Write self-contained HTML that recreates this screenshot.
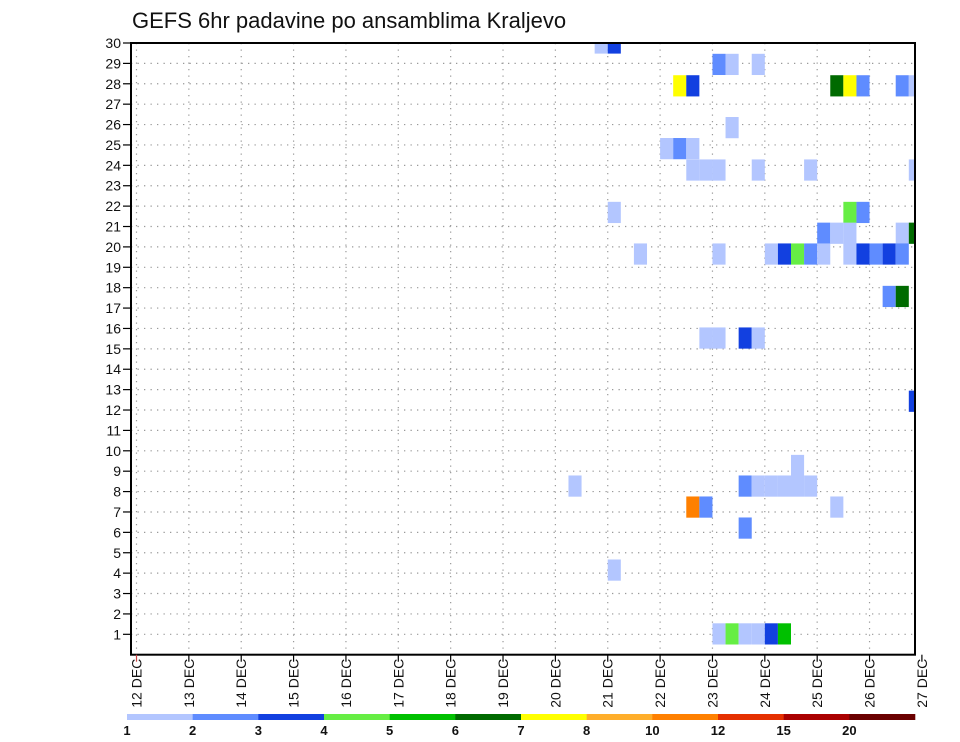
<!DOCTYPE html>
<html><head><meta charset="utf-8"><style>
body{margin:0;background:#fff;}
svg{display:block;font-family:"Liberation Sans",sans-serif;}
</style></head><body>
<svg id="chart" width="960" height="742" viewBox="0 0 960 742" xmlns="http://www.w3.org/2000/svg">
<text x="132" y="28" font-size="22" fill="#111">GEFS 6hr padavine po ansamblima Kraljevo</text>
<g id="grid"></g><g id="cells"></g><g id="axes"></g><g id="legend"></g>
</svg>
<script>
const dayLabels = ["12 DEC","13 DEC","14 DEC","15 DEC","16 DEC","17 DEC","18 DEC","19 DEC","20 DEC","21 DEC","22 DEC","23 DEC","24 DEC","25 DEC","26 DEC","27 DEC"];
const memberTicks = [1,2,3,4,5,6,7,8,9,10,11,12,13,14,15,16,17,18,19,20,21,22,23,24,25,26,27,28,29,30];
const legendLabels = ["1","2","3","4","5","6","7","8","10","12","15","20"];
const palette = ["#b3c6ff","#5f8cff","#1240e0","#66ee44","#00c000","#006a00","#ffff00","#ffae2a","#ff8000","#e53000","#aa0000","#6a0000"];
// cells: time in hours since 12 DEC 00Z, member position, colour category
const cellTime = [
 210,216,
 264,270,282,
 246,252,318,324,330,348,354,
 270,
 240,246,252,
 252,258,264,282,306,354,
 216,324,330,
 312,318,324,348,354,
 228,264,288,294,300,306,312,324,330,336,342,348,
 342,348,
 258,264,276,282,
 354,
 300,
 198,276,282,288,294,300,306,
 252,258,318,
 276,
 216,
 264,270,276,282,288,294];
const cellMember = [
 30,30,
 28.95,28.95,28.95,
 27.9,27.9,27.9,27.9,27.9,27.9,27.9,
 25.85,
 24.82,24.82,24.82,
 23.77,23.77,23.77,23.77,23.77,23.77,
 21.69,21.69,21.69,
 20.67,20.67,20.67,20.67,20.67,
 19.65,19.65,19.65,19.65,19.65,19.65,19.65,19.65,19.65,19.65,19.65,19.65,
 17.57,17.57,
 15.53,15.53,15.53,15.53,
 12.43,
 9.28,
 8.27,8.27,8.27,8.27,8.27,8.27,8.27,
 7.24,7.24,7.24,
 6.21,
 4.15,
 1.02,1.02,1.02,1.02,1.02,1.02];
const cellCat = [
 0,2,
 1,0,0,
 6,2,5,6,1,1,0,
 0,
 0,1,0,
 0,0,0,0,0,0,
 0,3,1,
 1,0,0,0,5,
 0,0,0,2,3,1,0,0,2,1,2,1,
 1,5,
 0,0,2,0,
 2,
 0,
 0,1,0,0,0,0,0,
 8,1,0,
 1,
 0,
 0,3,0,0,2,4];

const NS="http://www.w3.org/2000/svg";
const L=131,R=915,T=43,B=654.7;
const x=h=>136.5+h*52.36/24;
const y=v=>654.7-v*20.39;
function mk(tag,attrs,parent){const e=document.createElementNS(NS,tag);for(const k in attrs)e.setAttribute(k,attrs[k]);parent.appendChild(e);return e;}
const grid=document.getElementById('grid'),cells=document.getElementById('cells'),axes=document.getElementById('axes'),legend=document.getElementById('legend');
memberTicks.forEach(m=>{if(m<30){const g=mk('line',{x1:L,x2:R,y1:y(m),y2:y(m),stroke:'#999','stroke-width':1.2,'stroke-dasharray':'1.3 5.2'},grid);

}});
dayLabels.forEach((d,i)=>{const xx=x(i*24);if(xx>L&&xx<R){const g=mk('line',{x1:xx,x2:xx,y1:T,y2:B,stroke:'#999','stroke-width':1.2,'stroke-dasharray':'1.3 5.2'},grid);

}});
for(let i=0;i<cellTime.length;i++){
 let x0=x(cellTime[i]),x1=x(cellTime[i]+6),y0=y(cellMember[i]+0.52),y1=y(cellMember[i]-0.52);
 x0=Math.max(x0,L);x1=Math.min(x1,R);y0=Math.max(y0,T);y1=Math.min(y1,B);
 const r=mk('rect',{x:x0,y:y0,width:x1-x0,height:y1-y0,fill:palette[cellCat[i]]},cells);
 
 
}
const f=mk('rect',{x:L,y:T,width:R-L,height:B-T,fill:'none',stroke:'#000','stroke-width':2},axes);


memberTicks.forEach(m=>{
 mk('line',{x1:123,x2:L,y1:y(m),y2:y(m),stroke:'#000','stroke-width':1.2},axes);
 const t=mk('text',{x:121,y:y(m)+5,'font-size':14,'text-anchor':'end',fill:'#111'},axes);
 t.textContent=m;
 
 
});
dayLabels.forEach((d,i)=>{
 const xx=x(i*24);
 mk('line',{x1:xx,x2:xx,y1:B,y2:B+7,stroke:i===0?'#c44':'#000','stroke-width':1.2},axes);
 const t=mk('text',{x:0,y:0,'font-size':14,'text-anchor':'end',fill:'#111',transform:`translate(${xx+5},${B+4}) rotate(-90)`},axes);
 t.textContent=d;
 
 
});
const lw=(915-127)/12;
palette.forEach((c,i)=>{
 const r=mk('rect',{x:127+i*lw,y:714,width:lw+0.3,height:6,fill:c},legend);
 
 
});
legendLabels.forEach((s,i)=>{
 const t=mk('text',{x:127+i*lw,y:735,'font-size':13,'text-anchor':'middle',fill:'#111','font-weight':'bold'},legend);
 t.textContent=s;
 
 
});
</script>
</body></html>
